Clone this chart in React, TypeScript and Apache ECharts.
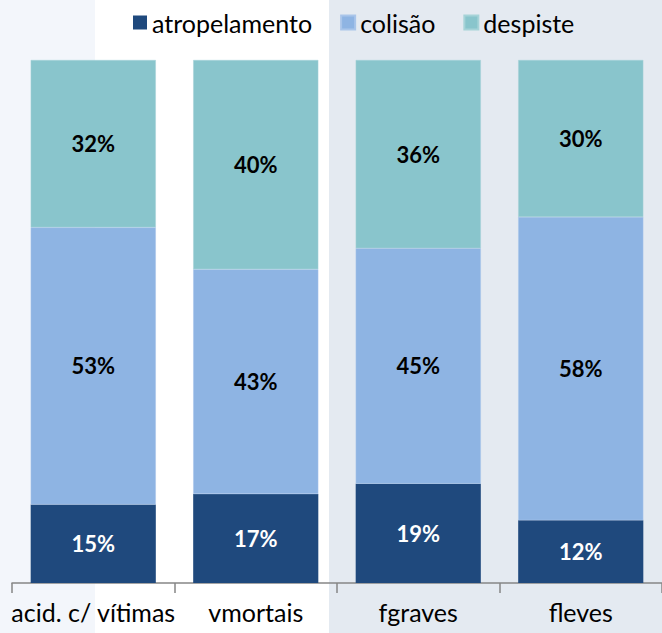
import React, { useEffect, useRef } from "react";
import * as echarts from "echarts";

const categories = ["acid. c/ vítimas", "vmortais", "fgraves", "fleves"];
const atropelamento = [15, 17, 19, 12];
const colisao = [53, 43, 45, 58];
const despiste = [32, 40, 36, 30];

const FONT = "Lato";

export default function App() {
  const ref = useRef<HTMLDivElement>(null);
  useEffect(() => {
    document.body.style.margin = "0";
    const chart = echarts.init(ref.current!, null, { renderer: "svg" });
    const label = (color: string) => ({
      show: true,
      position: "inside" as const,
      formatter: "{c}%",
      color,
      fontFamily: FONT,
      fontWeight: "bold" as const,
      fontSize: 22,
    });
    chart.setOption({
      animation: false,
      backgroundColor: "#ffffff",
      graphic: [
        { type: "rect", z: -10, shape: { x: 0, y: 0, width: 95, height: 633 }, style: { fill: "#f3f6fb" } },
        { type: "rect", z: -10, shape: { x: 329, y: 0, width: 333, height: 633 }, style: { fill: "#e4eaf1" } },
      ],
      legend: {
        top: 5,
        left: 128,
        itemWidth: 14,
        itemHeight: 14,
        itemGap: 28,
        icon: "rect",
        textStyle: { fontFamily: FONT, fontSize: 25, color: "#000" },
        data: ["atropelamento", "colisão", "despiste"],
      },
      grid: { left: 12, top: 60, width: 654, height: 523, containLabel: false },
      xAxis: {
        type: "category",
        data: categories,
        axisLine: { lineStyle: { color: "#868686", width: 1.5 } },
        axisTick: { show: true, length: 10, lineStyle: { color: "#868686", width: 1.5 } },
        axisLabel: { fontFamily: FONT, fontSize: 25, color: "#000", margin: 16, interval: 0 },
      },
      yAxis: { type: "value", min: 0, max: 100, show: false, splitLine: { show: false } },
      series: [
        { name: "atropelamento", type: "bar", stack: "s", data: atropelamento, barCategoryGap: "23%", itemStyle: { color: "#1f497d" }, label: label("#ffffff") },
        { name: "colisão", type: "bar", stack: "s", data: colisao, itemStyle: { color: "#8eb4e3", borderColor: "#a9c5ea", borderWidth: 0.5 }, label: label("#000000") },
        { name: "despiste", type: "bar", stack: "s", data: despiste, itemStyle: { color: "#89c5cc", borderColor: "#a6d3d8", borderWidth: 0.5 }, label: label("#000000") },
      ],
    });
    return () => chart.dispose();
  }, []);
  return <div ref={ref} style={{ width: 662, height: 633 }} />;
}
